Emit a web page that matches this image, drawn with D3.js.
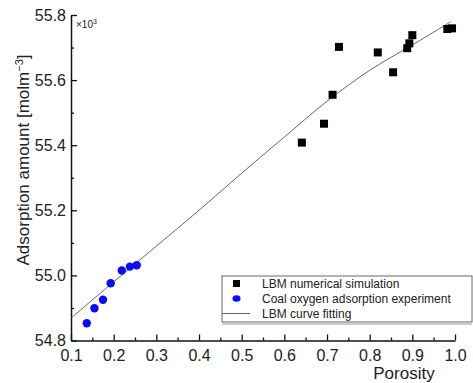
<!DOCTYPE html>
<html>
<head>
<meta charset="utf-8">
<script src="https://cdn.jsdelivr.net/npm/d3@7"></script>
<style>
  html, body { margin: 0; padding: 0; background: #fff; }
  text { font-family: "Liberation Sans", Arial, sans-serif; fill: #222; }
</style>
</head>
<body>
<svg id="chart" width="473" height="383"></svg>
<script>
// LBM numerical simulation (porosity, adsorption ×10^3 mol m^-3)
const lbmPorosity = [0.641, 0.693, 0.713, 0.728, 0.819, 0.855, 0.888, 0.893, 0.900, 0.982, 0.993];
const lbmAdsorption = [55.408, 55.466, 55.555, 55.702, 55.685, 55.624, 55.698, 55.713, 55.738, 55.757, 55.759];
// Coal oxygen adsorption experiment
const expPorosity = [0.137, 0.155, 0.175, 0.193, 0.219, 0.238, 0.254];
const expAdsorption = [54.853, 54.899, 54.925, 54.976, 55.015, 55.027, 55.031];
// LBM curve fitting
const fitPorosity = [0.10, 0.20, 0.30, 0.40, 0.50, 0.60, 0.70, 0.80, 0.90, 0.99];
const fitAdsorption = [54.869, 54.980, 55.090, 55.200, 55.314, 55.425, 55.535, 55.630, 55.708, 55.779];

const xTicks = [0.1, 0.2, 0.3, 0.4, 0.5, 0.6, 0.7, 0.8, 0.9, 1.0];
const xMinorTicks = [0.15, 0.25, 0.35, 0.45, 0.55, 0.65, 0.75, 0.85, 0.95];
const yTicks = [54.8, 55.0, 55.2, 55.4, 55.6, 55.8];
const yMinorTicks = [54.9, 55.1, 55.3, 55.5, 55.7];
const legendLabels = ["LBM numerical simulation", "Coal oxygen adsorption experiment", "LBM curve fitting"];

const svg = d3.select("#chart");
const x = d3.scaleLinear().domain([0.1, 1.0]).range([71, 455]);
const y = d3.scaleLinear().domain([54.8, 55.8]).range([340.5, 15]);
const FONT = "'Liberation Sans', Arial, sans-serif";

// axes
const xAxis = d3.axisBottom(x).tickValues(xTicks).tickFormat(d3.format(".1f")).tickSizeInner(-6).tickSizeOuter(0).tickPadding(9);
const gx = svg.append("g").attr("transform", `translate(0,${y(54.8)})`).call(xAxis);
gx.select(".domain").attr("stroke", "#111").attr("stroke-width", 1.5);
gx.selectAll(".tick line").attr("stroke", "#111").attr("stroke-width", 1.3);
gx.selectAll(".tick text").attr("font-size", 16).attr("fill", "#222").style("font-family", FONT);
const gxm = svg.append("g").attr("transform", `translate(0,${y(54.8)})`)
  .call(d3.axisBottom(x).tickValues(xMinorTicks).tickSizeInner(-3).tickSizeOuter(0).tickFormat(""));
gxm.select(".domain").remove();
gxm.selectAll(".tick line").attr("stroke", "#111").attr("stroke-width", 1.3);

const yAxis = d3.axisLeft(y).tickValues(yTicks).tickFormat(d3.format(".1f")).tickSizeInner(-6).tickSizeOuter(0).tickPadding(5);
const gy = svg.append("g").attr("transform", `translate(${x(0.1)},0)`).call(yAxis);
gy.select(".domain").attr("stroke", "#111").attr("stroke-width", 1.5);
gy.selectAll(".tick line").attr("stroke", "#111").attr("stroke-width", 1.3);
gy.selectAll(".tick text").attr("font-size", 16).attr("fill", "#222").style("font-family", FONT);
const gym = svg.append("g").attr("transform", `translate(${x(0.1)},0)`)
  .call(d3.axisLeft(y).tickValues(yMinorTicks).tickSizeInner(-3).tickSizeOuter(0).tickFormat(""));
gym.select(".domain").remove();
gym.selectAll(".tick line").attr("stroke", "#111").attr("stroke-width", 1.3);

// multiplier
const mult = svg.append("text").attr("x", 76).attr("y", 28).attr("font-size", 10);
mult.append("tspan").text("×10");
mult.append("tspan").attr("dy", -4).attr("font-size", 7).text("3");

// axis titles
svg.append("text").attr("x", 404).attr("y", 379).attr("text-anchor", "middle").attr("font-size", 17).text("Porosity");
const yl = svg.append("text").attr("transform", "translate(29,160) rotate(-90)").attr("text-anchor", "middle").attr("font-size", 17);
yl.append("tspan").text("Adsorption amount [molm");
yl.append("tspan").attr("dy", -6).attr("font-size", 11).text("−3");
yl.append("tspan").attr("dy", 6).text("]");

// fitted curve
const fitData = fitPorosity.map((p, i) => [p, fitAdsorption[i]]);
svg.append("path").datum(fitData)
  .attr("fill", "none").attr("stroke", "#555").attr("stroke-width", 0.9)
  .attr("d", d3.line().x(d => x(d[0])).y(d => y(d[1])).curve(d3.curveCatmullRom));

// LBM squares
const sq = 8;
svg.selectAll(".lbm").data(lbmPorosity.map((p, i) => [p, lbmAdsorption[i]])).enter()
  .append("rect").attr("class", "lbm")
  .attr("x", d => x(d[0]) - sq / 2).attr("y", d => y(d[1]) - sq / 2)
  .attr("width", sq).attr("height", sq).attr("fill", "#000");

// experiment circles
svg.selectAll(".exp").data(expPorosity.map((p, i) => [p, expAdsorption[i]])).enter()
  .append("circle").attr("class", "exp")
  .attr("cx", d => x(d[0])).attr("cy", d => y(d[1])).attr("r", 4.2).attr("fill", "#0a0aff");

// legend
const lg = svg.append("g");
lg.append("rect").attr("x", 222).attr("y", 276).attr("width", 250).attr("height", 46)
  .attr("fill", "#fff").attr("stroke", "#666").attr("stroke-width", 1);
lg.append("line").attr("x1", 222).attr("x2", 472).attr("y1", 324).attr("y2", 324).attr("stroke", "#999").attr("stroke-width", 1);
lg.append("rect").attr("x", 233).attr("y", 280).attr("width", 7).attr("height", 7).attr("fill", "#000");
lg.append("ellipse").attr("cx", 236.5).attr("cy", 298.5).attr("rx", 4).attr("ry", 3.3).attr("fill", "#0a0aff");
lg.append("line").attr("x1", 222).attr("x2", 250).attr("y1", 313.5).attr("y2", 313.5).attr("stroke", "#555").attr("stroke-width", 0.9);
legendLabels.forEach((t, i) => {
  lg.append("text").attr("x", 262).attr("y", 288 + i * 15).attr("font-size", 12).text(t);
});
</script>
</body>
</html>
